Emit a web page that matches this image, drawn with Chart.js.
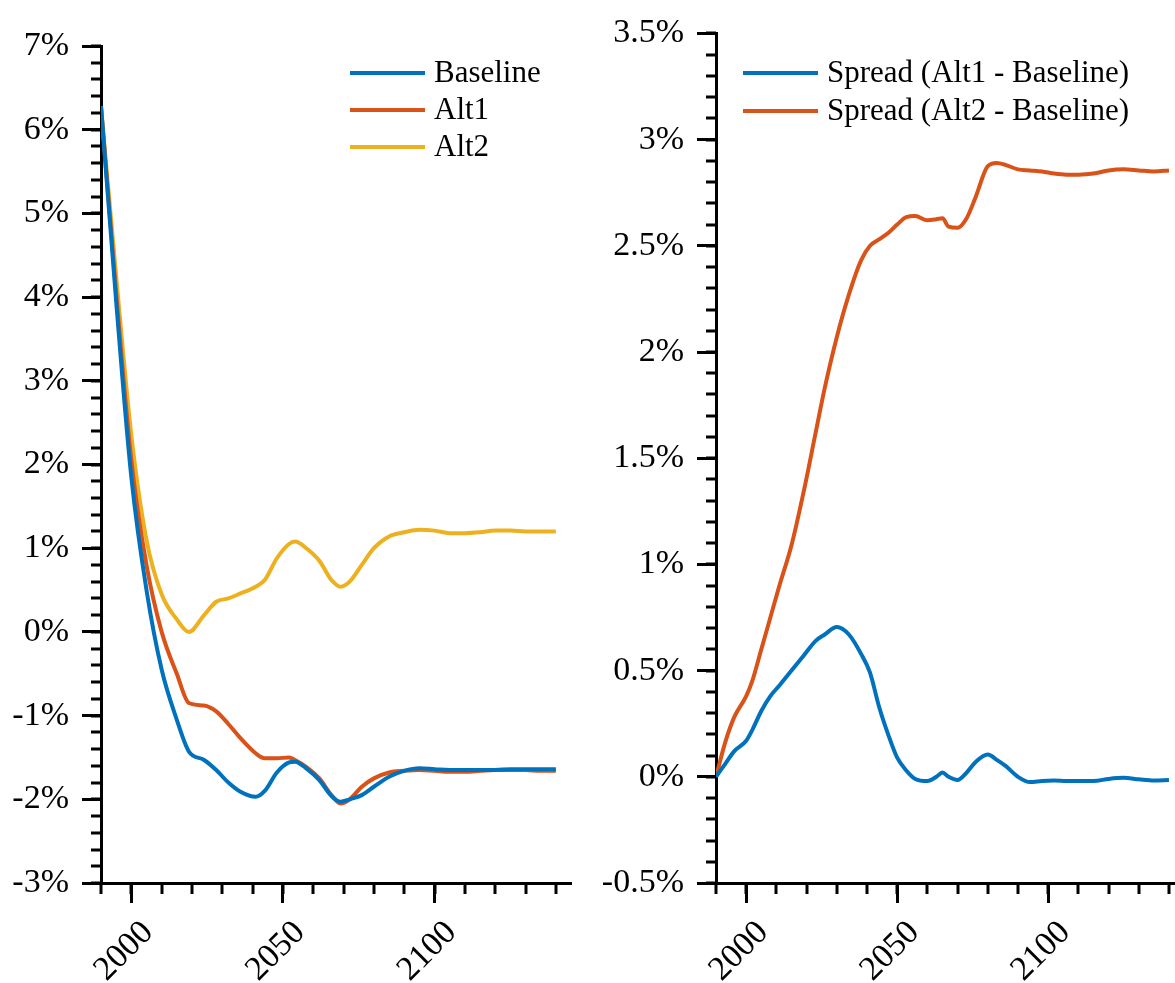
<!DOCTYPE html>
<html>
<head>
<meta charset="utf-8">
<script src="https://cdn.jsdelivr.net/npm/chart.js@4"></script>
<style>
  body { margin: 0; background: #fff; }
  canvas { position: absolute; top: 0; }
  #rate-chart { left: 0; }
  #spread-chart { left: 590px; }
</style>
</head>
<body>
<canvas id="rate-chart" width="590" height="983"></canvas>
<canvas id="spread-chart" width="585" height="983"></canvas>
<script>
// left panel: rates
const rateYears = [1990, 1995, 2000, 2005, 2010, 2015, 2019, 2024, 2028, 2032, 2036, 2041, 2044, 2048, 2052, 2054, 2058, 2062, 2066, 2069, 2072, 2076, 2080, 2085, 2090, 2095, 2100, 2105, 2110, 2115, 2120, 2125, 2130, 2135, 2140];
const baseline = [6.28, 3.95, 1.85, 0.5, -0.45, -1.05, -1.43, -1.53, -1.65, -1.8, -1.91, -1.97, -1.9, -1.68, -1.56, -1.55, -1.64, -1.77, -1.96, -2.03, -2.0, -1.95, -1.85, -1.73, -1.66, -1.63, -1.64, -1.65, -1.65, -1.65, -1.65, -1.64, -1.64, -1.64, -1.64];
const alt1 = [6.28, 4.05, 2.05, 0.8, 0.0, -0.5, -0.85, -0.88, -0.95, -1.1, -1.27, -1.45, -1.51, -1.51, -1.5, -1.53, -1.62, -1.75, -1.95, -2.05, -2.0, -1.85, -1.75, -1.68, -1.66, -1.65, -1.66, -1.67, -1.67, -1.66, -1.65, -1.65, -1.65, -1.66, -1.66];
const alt2 = [6.28, 4.25, 2.35, 1.1, 0.45, 0.15, 0.0, 0.2, 0.36, 0.4, 0.46, 0.54, 0.62, 0.88, 1.05, 1.08, 0.99, 0.85, 0.62, 0.54, 0.6, 0.8, 1.0, 1.14, 1.19, 1.22, 1.21, 1.18, 1.18, 1.19, 1.21, 1.21, 1.2, 1.2, 1.2];

// right panel: spreads
const spreadYears = [1990, 1993, 1996, 2000, 2002, 2005, 2008, 2011, 2015, 2019, 2023, 2026, 2030, 2034, 2038, 2041, 2044, 2047, 2050, 2053, 2056, 2060, 2063, 2065, 2067, 2070, 2073, 2076, 2080, 2083, 2086, 2090, 2094, 2098, 2102, 2106, 2110, 2115, 2120, 2125, 2130, 2135, 2140];
const spreadAlt1 = [0, 0.06, 0.12, 0.17, 0.22, 0.31, 0.38, 0.43, 0.5, 0.57, 0.64, 0.67, 0.705, 0.67, 0.58, 0.49, 0.33, 0.2, 0.09, 0.03, -0.01, -0.02, 0.0, 0.02, 0.0, -0.015, 0.02, 0.07, 0.105, 0.08, 0.05, 0.0, -0.025, -0.02, -0.018, -0.02, -0.02, -0.02, -0.01, -0.005, -0.012, -0.018, -0.015];
const spreadAlt2 = [0, 0.16, 0.28, 0.38, 0.45, 0.6, 0.75, 0.9, 1.09, 1.34, 1.62, 1.83, 2.07, 2.27, 2.43, 2.5, 2.53, 2.56, 2.6, 2.635, 2.64, 2.62, 2.625, 2.63, 2.59, 2.585, 2.63, 2.73, 2.875, 2.89, 2.88, 2.86, 2.855, 2.85, 2.84, 2.835, 2.835, 2.84, 2.855, 2.86, 2.855, 2.85, 2.855];

const xTickYears = [2000, 2050, 2100];

const blue = '#0072BD', red = '#D95319', yellow = '#EDB120';

Chart.defaults.font.family = '"Liberation Serif", "Times New Roman", serif';
Chart.defaults.color = '#000';

function series(years, values) {
  return values.map((v, i) => ({x: years[i], y: v}));
}

function line(label, years, values, color) {
  return {
    label: label,
    data: series(years, values),
    borderColor: color,
    backgroundColor: color,
    borderWidth: 4,
    pointRadius: 0,
    cubicInterpolationMode: 'monotone',
    fill: false
  };
}

// short unlabelled ticks between the major ones
const minorTicks = {
  id: 'minorTicks',
  afterDraw(chart, args, opts) {
    const ctx = chart.ctx;
    const xs = chart.scales.x, ys = chart.scales.y;
    const area = chart.chartArea;
    ctx.save();
    ctx.strokeStyle = '#000';
    ctx.lineWidth = 3;
    ctx.beginPath();
    const ny = Math.round((opts.yMax - opts.yMin) / opts.yStep);
    for (let i = 0; i <= ny; i++) {
      const py = Math.round(ys.getPixelForValue(opts.yMin + i * opts.yStep));
      ctx.moveTo(area.left, py);
      ctx.lineTo(area.left - 10, py);
    }
    for (let yr = opts.xMin; yr <= opts.xMax; yr += opts.xStep) {
      const px = Math.round(xs.getPixelForValue(yr));
      ctx.moveTo(px, area.bottom);
      ctx.lineTo(px, area.bottom + 11);
    }
    ctx.stroke();
    ctx.restore();
  }
};

const insideLegend = {
  id: 'insideLegend',
  afterDraw(chart, args, opts) {
    const ctx = chart.ctx;
    ctx.save();
    ctx.font = '31px "Liberation Serif"';
    ctx.textBaseline = 'middle';
    ctx.textAlign = 'left';
    chart.data.datasets.forEach((ds, i) => {
      const y = opts.top + i * opts.gap;
      ctx.strokeStyle = ds.borderColor;
      ctx.lineWidth = ds.borderWidth;
      ctx.beginPath();
      ctx.moveTo(opts.left, y);
      ctx.lineTo(opts.left + 75, y);
      ctx.stroke();
      ctx.fillStyle = '#000';
      ctx.fillText(ds.label, opts.left + 84, y + 1);
    });
    ctx.restore();
  }
};

function axes(yMin, yMax, yStep, yWidth, xMax) {
  return {
    x: {
      type: 'linear',
      min: 1990,
      max: xMax,
      afterBuildTicks: s => { s.ticks = xTickYears.map(v => ({value: v})); },
      afterFit: s => { s.height = 100; },
      border: {color: '#000', width: 3},
      grid: {drawOnChartArea: false, tickLength: 20, tickWidth: 3, tickColor: '#000'},
      ticks: {
        autoSkip: false, minRotation: 45, maxRotation: 45,
        padding: 10, labelOffset: 17,
        font: {size: 34}, color: '#000',
        callback: v => String(v)
      }
    },
    y: {
      min: yMin,
      max: yMax,
      afterFit: s => { s.width = yWidth; },
      border: {color: '#000', width: 3},
      grid: {drawOnChartArea: false, tickLength: 19, tickWidth: 3, tickColor: '#000'},
      ticks: {
        stepSize: yStep, padding: 13,
        font: {size: 34}, color: '#000',
        callback: v => v + '%'
      }
    }
  };
}

let rateChart = new Chart(document.getElementById('rate-chart').getContext('2d'), {
  type: 'line',
  data: {
    datasets: [
      line('Baseline', rateYears, baseline, blue),
      line('Alt1', rateYears, alt1, red),
      line('Alt2', rateYears, alt2, yellow)
    ]
  },
  options: {
    responsive: false,
    animation: false,
    layout: {padding: {top: 46, right: 19, bottom: 0, left: 0}},
    scales: axes(-3, 7, 1, 101, 2145),
    plugins: {
      legend: {display: false},
      tooltip: {enabled: false},
      minorTicks: {yMin: -3, yMax: 7, yStep: 0.2, xMin: 1990, xMax: 2140, xStep: 10},
      insideLegend: {left: 350, top: 73, gap: 37}
    }
  },
  plugins: [minorTicks, insideLegend]
});

let spreadChart = new Chart(document.getElementById('spread-chart').getContext('2d'), {
  type: 'line',
  data: {
    datasets: [
      line('Spread (Alt1 - Baseline)', spreadYears, spreadAlt1, blue),
      line('Spread (Alt2 - Baseline)', spreadYears, spreadAlt2, red)
    ]
  },
  options: {
    responsive: false,
    animation: false,
    layout: {padding: {top: 30, right: 0, bottom: 0, left: 0}},
    scales: axes(-0.5, 3.5, 0.5, 126, 2142),
    plugins: {
      legend: {display: false},
      tooltip: {enabled: false},
      minorTicks: {yMin: -0.5, yMax: 3.5, yStep: 0.1, xMin: 1990, xMax: 2140, xStep: 10},
      insideLegend: {left: 153, top: 73, gap: 38}
    }
  },
  plugins: [minorTicks, insideLegend]
});
</script>
</body>
</html>
